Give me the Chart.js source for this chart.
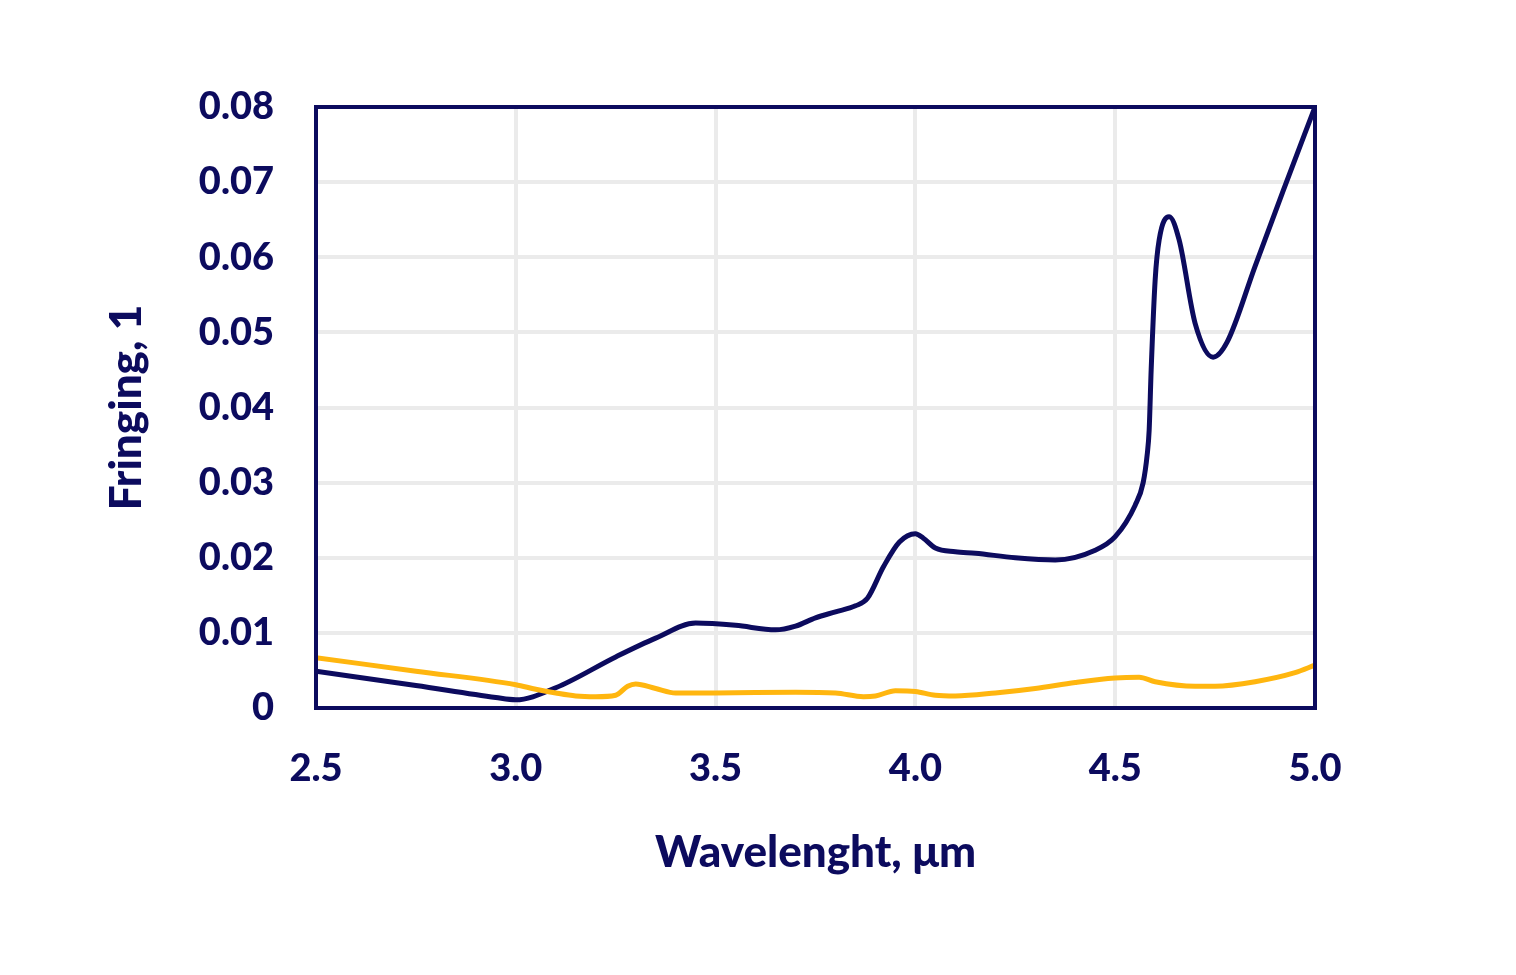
<!DOCTYPE html>
<html>
<head>
<meta charset="utf-8">
<script src="https://cdn.jsdelivr.net/npm/chart.js@4.4.0/dist/chart.umd.min.js"></script>
<style>
html,body{margin:0;padding:0;background:#fff;}
#wrap{width:1516px;height:975px;position:relative;}
</style>
</head>
<body>
<div id="wrap"><canvas id="c" width="1516" height="975"></canvas></div>
<script>
const navyX = [2.5, 2.75, 2.95, 3.0, 3.1, 3.25, 3.35, 3.45, 3.55, 3.65, 3.7, 3.75, 3.8, 3.85, 3.88, 3.92, 3.96, 4.0, 4.02, 4.05, 4.1, 4.15, 4.25, 4.35, 4.45, 4.5, 4.55, 4.57, 4.58, 4.585, 4.59, 4.6, 4.61, 4.635, 4.66, 4.7, 4.745, 4.78, 4.85, 4.92, 5.0];
const navyY = [0.0049, 0.003, 0.0014, 0.0011, 0.0027, 0.0068, 0.0093, 0.0113, 0.011, 0.0104, 0.0109, 0.012, 0.0128, 0.0136, 0.0146, 0.0188, 0.0221, 0.0232, 0.0226, 0.0213, 0.0208, 0.0206, 0.02, 0.0197, 0.021, 0.0228, 0.027, 0.030, 0.0337, 0.037, 0.045, 0.057, 0.0623, 0.0654, 0.0623, 0.0512, 0.0467, 0.0487, 0.0588, 0.0688, 0.08];
const yellowX = [2.5, 2.75, 3.0, 3.05, 3.1, 3.15, 3.2, 3.25, 3.28, 3.3, 3.35, 3.4, 3.5, 3.7, 3.8, 3.87, 3.9, 3.95, 4.0, 4.05, 4.1, 4.2, 4.3, 4.4, 4.5, 4.56, 4.6, 4.7, 4.75, 4.85, 4.95, 5.0];
const yellowY = [0.0067, 0.0049, 0.0031, 0.0025, 0.002, 0.0016, 0.0015, 0.0017, 0.0029, 0.0032, 0.0026, 0.002, 0.002, 0.0021, 0.002, 0.0015, 0.0016, 0.0023, 0.0022, 0.0017, 0.0016, 0.002, 0.0026, 0.0034, 0.004, 0.0041, 0.0035, 0.0029, 0.0029, 0.0035, 0.0047, 0.0057];
const xTicks = [2.5, 3.0, 3.5, 4.0, 4.5, 5.0];
const yTicks = [0, 0.01, 0.02, 0.03, 0.04, 0.05, 0.06, 0.07, 0.08];
const xTitle = 'Wavelenght, μm';
const yTitle = 'Fringing, 1';

const NAVY = '#0c0b5e';
const YELLOW = '#ffb60f';
const FONT = 'Lato';

const boxPlugin = {
  id: 'box',
  afterDatasetsDraw(chart) {
    const a = chart.chartArea, ctx = chart.ctx;
    ctx.save();
    ctx.strokeStyle = NAVY;
    ctx.lineWidth = 4;
    ctx.strokeRect(a.left, a.top, a.right - a.left, a.bottom - a.top);
    ctx.restore();
  }
};

new Chart(document.getElementById('c'), {
  type: 'line',
  data: {
    datasets: [
      { data: yellowX.map((x, i) => ({x, y: yellowY[i]})), borderColor: YELLOW, borderWidth: 5, pointRadius: 0, cubicInterpolationMode: 'monotone', fill: false },
      { data: navyX.map((x, i) => ({x, y: navyY[i]})), borderColor: NAVY, borderWidth: 5, pointRadius: 0, cubicInterpolationMode: 'monotone', fill: false }
    ]
  },
  options: {
    responsive: false,
    animation: false,
    layout: { padding: { left: 100, right: 201, top: 107, bottom: 92 } },
    plugins: { legend: { display: false }, tooltip: { enabled: false } },
    scales: {
      x: {
        type: 'linear', min: 2.5, max: 5.0,
        afterBuildTicks(s) { s.ticks = xTicks.map(v => ({value: v})); },
        afterFit(s) { s.height = 175; },
        ticks: { color: NAVY, font: { family: FONT, size: 38, weight: '900' }, padding: 38, callback: v => v.toFixed(1), maxRotation: 0 },
        grid: { color: '#ebebeb', lineWidth: 4, drawTicks: false },
        border: { display: false },
        title: { display: true, text: xTitle, color: NAVY, font: { family: FONT, size: 44, weight: '900' }, padding: { top: 40 } }
      },
      y: {
        type: 'linear', min: 0, max: 0.08,
        afterBuildTicks(s) { s.ticks = yTicks.map(v => ({value: v})); },
        afterFit(s) { s.width = 216; },
        ticks: { color: NAVY, font: { family: FONT, size: 38, weight: '900' }, padding: 42, callback: v => v === 0 ? '0' : v.toFixed(2) },
        grid: { color: '#ebebeb', lineWidth: 4, drawTicks: false },
        border: { display: false },
        title: { display: true, text: yTitle, color: NAVY, font: { family: FONT, size: 44, weight: '900' }, padding: 0 }
      }
    }
  },
  plugins: [boxPlugin]
});
</script>
</body>
</html>
